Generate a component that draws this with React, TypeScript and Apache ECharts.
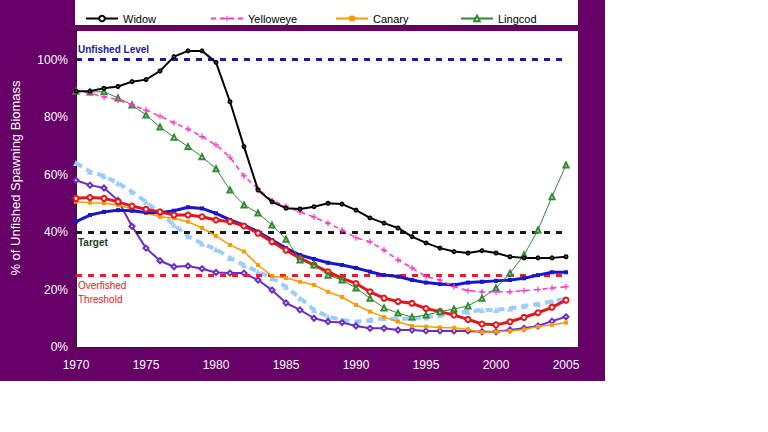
import { useEffect, useRef } from "react";
import * as echarts from "echarts";

const FONT = "Liberation Sans, Arial, sans-serif";

const years = [
  1970, 1971, 1972, 1973, 1974, 1975, 1976, 1977, 1978, 1979, 1980, 1981,
  1982, 1983, 1984, 1985, 1986, 1987, 1988, 1989, 1990, 1991, 1992, 1993,
  1994, 1995, 1996, 1997, 1998, 1999, 2000, 2001, 2002, 2003, 2004, 2005,
];

// % of unfished spawning biomass, one value per year
const widow = [
  89, 89, 90, 90.6, 92.3, 93, 96, 101, 103, 103, 99, 85.3,
  69.7, 54.6, 50.5, 48.3, 48, 48.8, 50, 49.7, 47.6, 44.9, 43.1, 41.4,
  38.4, 36.2, 34.4, 33.2, 32.7, 33.5, 32.7, 31.4, 31, 31, 31, 31.4,
];
const yelloweye = [
  89, 88.3, 87, 86, 84.2, 82.4, 80.3, 78, 75.8, 73.2, 70.3, 66,
  59.5, 55, 51, 49, 47, 45.2, 43.1, 40.7, 38, 36.6, 33.7, 30.3,
  27.5, 24.5, 23.3, 21, 19.6, 19.2, 19.2, 19.2, 19.6, 20, 20.5, 21,
];
const canary = [
  50.5, 50.2, 50, 49.4, 48, 46.6, 45.3, 44.8, 43.6, 41.4, 38.6, 35.5,
  33.2, 28.5, 24.7, 24, 22.7, 21.6, 19.2, 17.4, 14.6, 12.3, 10.4, 8.8,
  7.3, 7.1, 6.8, 6.7, 6.1, 5.1, 5.3, 5.6, 6.1, 7.1, 7.7, 8.5,
];
const lingcod = [
  89, 88.7, 88.8, 86.6, 84.2, 80.7, 76.5, 73, 69.7, 66.2, 62, 54.6,
  49.4, 46.6, 42.4, 37.5, 30.3, 28.5, 25, 23.3, 20.5, 17, 13.6, 11.8,
  10.4, 11.1, 12.3, 13.2, 14.3, 17, 20.5, 25.7, 32, 40.7, 52.3, 63.3,
];
const stockBlue = [
  43.6, 45.9, 47, 47.6, 47.4, 46.8, 46.7, 47.4, 48.6, 48.2, 46.5, 44.2,
  42.4, 40.1, 37.2, 34.4, 32, 30.6, 29.3, 28.5, 27.5, 26.2, 25, 24.5,
  23.3, 22.4, 21.9, 21.6, 22.4, 22.7, 23, 23.3, 23.9, 25, 26, 26,
];
const stockRed = [
  51.7, 52, 51.7, 50.5, 49, 47.9, 47, 45.9, 45.9, 45.3, 44.2, 43.6,
  42.1, 39.6, 36.6, 33.7, 30.9, 28.5, 26.2, 23.9, 22.1, 19.2, 17, 15.8,
  15.2, 13.4, 12.3, 11.1, 9.6, 8, 7.7, 8.8, 10.3, 11.9, 13.8, 16.3,
];
const stockLightBlue = [
  64, 61, 59.5, 57, 54, 50.5, 46.5, 42.5, 38.5, 36, 34, 31,
  28.5, 26.2, 24, 21, 17, 12.9, 10.6, 9.4, 8.8, 9.4, 10, 9.6,
  10, 10.3, 11.1, 11.7, 12.3, 12.9, 12.9, 13.4, 14.3, 15, 15.8, 16.9,
];
const stockPurple = [
  58, 56.3, 55.3, 51, 42, 34.4, 30, 27.9, 28.2, 27.2, 25.9, 25.7,
  25.7, 23.3, 19.8, 15.3, 12.9, 10, 8.8, 8.5, 7.3, 6.5, 6.5, 5.9,
  5.9, 5.6, 5.6, 5.6, 5.6, 5.3, 5.3, 5.9, 6.5, 7.3, 9, 10.5,
];

// reference levels
const unfishedLevel = 100;
const targetLevel = 40;
const overfishedLevel = 25;

const legendNames = ["Widow", "Yelloweye", "Canary", "Lingcod"];

const plusSymbol = "path://M4,0h2v4h4v2h-4v4h-2v-4h-4v-2h4z";

function pairs(values: number[]) {
  return years.map((y, i) => [y, values[i]]);
}

function stockSeries(
  name: string,
  values: number[],
  color: string,
  width: number,
  symbol: string,
  symbolSize: number,
  z: number,
  dashed?: number[]
) {
  return {
    name,
    type: "line",
    data: pairs(values),
    symbol,
    symbolSize,
    showAllSymbol: true,
    z,
    lineStyle: { color, width, type: dashed ?? "solid" },
    itemStyle: { color, borderWidth: 1 },
  };
}

function refLine(level: number, color: string, text: string, textColor: string, position: string, bold: boolean) {
  return {
    type: "line",
    data: [],
    z: 1,
    markLine: {
      silent: true,
      symbol: ["none", "none"],
      lineStyle: { color, width: 3, type: [6, 6] },
      label: {
        show: true,
        position,
        formatter: text,
        color: textColor,
        fontSize: 10,
        fontWeight: bold ? "bold" : "normal",
        fontFamily: FONT,
        distance: [2, 3],
        lineHeight: 14,
      },
      data: [{ yAxis: level }],
    },
  };
}

export default function App() {
  const ref = useRef<HTMLDivElement>(null);

  useEffect(() => {
    const chart = echarts.init(ref.current!, null, { renderer: "svg" });
    chart.setOption({
      animation: false,
      backgroundColor: "#ffffff",
      graphic: [
        { type: "rect", z: -10, silent: true, shape: { x: 0, y: 0, width: 605, height: 381 }, style: { fill: "#660066" } },
        { type: "rect", z: -9, silent: true, shape: { x: 75, y: -2, width: 503, height: 27 }, style: { fill: "#ffffff" } },
        { type: "rect", z: -9, silent: true, shape: { x: 76, y: 31, width: 502, height: 316 }, style: { fill: "#ffffff" } },
        {
          type: "text",
          x: 15,
          y: 178,
          rotation: Math.PI / 2,
          silent: true,
          style: {
            text: "% of Unfished Spawning Biomass",
            fill: "#ffffff",
            font: `13px ${FONT}`,
            align: "center",
            verticalAlign: "middle",
          },
        },
      ],
      legend: legendNames.map((name, i) => ({
        data: [name],
        left: 80 + 125 * i,
        top: 8,
        itemWidth: 32,
        itemHeight: 7,
        itemGap: 4,
        selectedMode: false,
        textStyle: { color: "#000000", fontSize: 11, fontFamily: FONT },
      })),
      grid: { left: 76, right: 202, top: 30.75, bottom: 85 },
      xAxis: {
        type: "value",
        min: 1970,
        max: 2005,
        interval: 5,
        splitLine: { show: false },
        axisLine: { lineStyle: { color: "#222222" } },
        axisTick: { show: true, length: 3, lineStyle: { color: "#222222" } },
        axisLabel: {
          color: "#ffffff",
          fontSize: 12,
          fontFamily: FONT,
          margin: 12,
          formatter: (v: number) => String(v),
        },
      },
      yAxis: {
        type: "value",
        min: 0,
        max: 110,
        interval: 20,
        splitLine: { show: false },
        axisLine: { show: true, lineStyle: { color: "#222222" } },
        axisTick: { show: true, length: 3, lineStyle: { color: "#222222" } },
        axisLabel: {
          color: "#ffffff",
          fontSize: 12,
          fontFamily: FONT,
          margin: 8,
          formatter: (v: number) => (v % 20 === 0 && v <= 100 ? `${v}%` : ""),
        },
      },
      series: [
        refLine(unfishedLevel, "#1c1c9c", "Unfished Level", "#1c1c9c", "insideStartTop", true),
        refLine(targetLevel, "#1a1a1a", "Target", "#1e3a1e", "insideStartBottom", true),
        refLine(overfishedLevel, "#e42020", "Overfished\nThreshold", "#e42020", "insideStartBottom", false),
        stockSeries("", stockLightBlue, "#99ccff", 4, "triangle", 6, 3, [7, 5]),
        stockSeries("", stockPurple, "#6a2fc0", 2, "emptyDiamond", 5, 4),
        stockSeries("Canary", canary, "#ff9900", 1.5, "rect", 4, 5),
        stockSeries("", stockBlue, "#1616cc", 3, "rect", 4, 6),
        stockSeries("", stockRed, "#e81418", 3, "emptyCircle", 5, 7),
        stockSeries("Lingcod", lingcod, "#2e8b2e", 1, "emptyTriangle", 5, 8),
        stockSeries("Yelloweye", yelloweye, "#ff33cc", 1.5, plusSymbol, 6, 9, [5, 4]),
        stockSeries("Widow", widow, "#000000", 2, "emptyCircle", 3, 10),
      ],
    });
    return () => chart.dispose();
  }, []);

  return (
    <div
      ref={ref}
      style={{ position: "fixed", left: 0, top: 0, width: 768, height: 432 }}
    />
  );
}
